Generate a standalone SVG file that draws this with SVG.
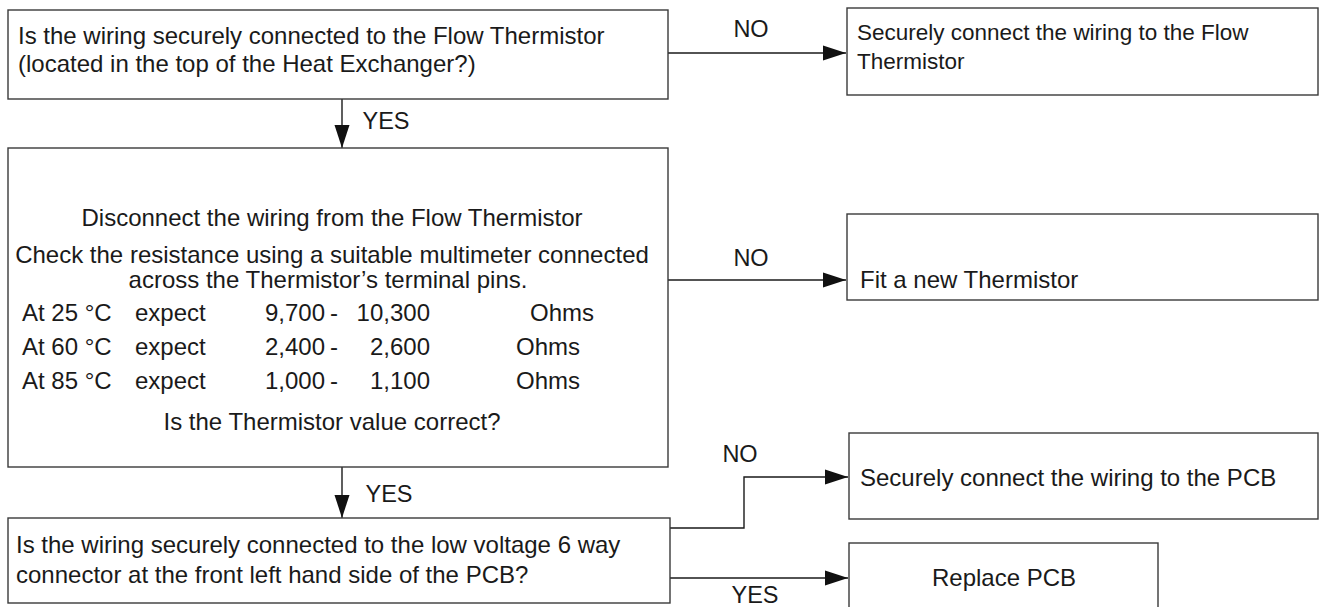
<svg xmlns="http://www.w3.org/2000/svg" width="1327" height="607" viewBox="0 0 1327 607">
<style>
  .box { fill: #ffffff; stroke: #3a3a3a; stroke-width: 1.4; }
  .t { font-family: "Liberation Sans", Arial, sans-serif; font-size: 24px; fill: #1a1a1a; }
  .s { font-size: 22.5px; }
  .c { text-anchor: middle; }
  .lbl { font-family: "Liberation Sans", Arial, sans-serif; font-size: 23.5px; fill: #1a1a1a; text-anchor: middle; }
  .conn { fill: none; stroke: #1a1a1a; stroke-width: 1.4; }
</style>
<defs>
  <marker id="arr" markerUnits="userSpaceOnUse" markerWidth="25" markerHeight="16" refX="23" refY="8" orient="auto">
    <path d="M0,0.5 L23,8 L0,15.5 Z" fill="#111111"/>
  </marker>
</defs>
<rect width="1327" height="607" fill="#ffffff"/>

<g id="connectors">
  <line class="conn" x1="668" y1="53" x2="846" y2="53" marker-end="url(#arr)"/>
  <line class="conn" x1="342" y1="99" x2="342" y2="148" marker-end="url(#arr)"/>
  <line class="conn" x1="668" y1="280" x2="846" y2="280" marker-end="url(#arr)"/>
  <line class="conn" x1="342" y1="467" x2="342" y2="518" marker-end="url(#arr)"/>
  <polyline class="conn" points="670,528 744,528 744,477 848,477" marker-end="url(#arr)"/>
  <line class="conn" x1="670" y1="578" x2="848" y2="578" marker-end="url(#arr)"/>
  <text class="lbl" x="751" y="37">NO</text>
  <text class="lbl" x="386" y="129">YES</text>
  <text class="lbl" x="751" y="266">NO</text>
  <text class="lbl" x="389" y="502">YES</text>
  <text class="lbl" x="740" y="462">NO</text>
  <text class="lbl" x="755" y="603">YES</text>
</g>

<g id="n1">
  <rect class="box" x="8" y="10" width="660" height="89"/>
  <text class="t" x="18" y="44">Is the wiring securely connected to the Flow Thermistor</text>
  <text class="t" x="18" y="72">(located in the top of the Heat Exchanger?)</text>
</g>

<g id="n2">
  <rect class="box" x="847" y="8" width="471" height="87"/>
  <text class="t s" x="857" y="40">Securely connect the wiring to the Flow</text>
  <text class="t s" x="857" y="69">Thermistor</text>
</g>

<g id="n3">
  <rect class="box" x="8" y="148" width="660" height="319"/>
  <text class="t c" x="332" y="226">Disconnect the wiring from the Flow Thermistor</text>
  <text class="t c" x="332" y="263">Check the resistance using a suitable multimeter connected</text>
  <text class="t c" x="328" y="288">across the Thermistor’s terminal pins.</text>
  <text class="t" x="22" y="321">At 25 °C</text>
  <text class="t" x="135" y="321">expect</text>
  <text class="t" x="265" y="321">9,700</text>
  <text class="t" x="330" y="321">-</text>
  <text class="t" x="430" y="321" text-anchor="end">10,300</text>
  <text class="t" x="530" y="321">Ohms</text>
  <text class="t" x="22" y="355">At 60 °C</text>
  <text class="t" x="135" y="355">expect</text>
  <text class="t" x="265" y="355">2,400</text>
  <text class="t" x="330" y="355">-</text>
  <text class="t" x="430" y="355" text-anchor="end">2,600</text>
  <text class="t" x="516" y="355">Ohms</text>
  <text class="t" x="22" y="389">At 85 °C</text>
  <text class="t" x="135" y="389">expect</text>
  <text class="t" x="265" y="389">1,000</text>
  <text class="t" x="330" y="389">-</text>
  <text class="t" x="430" y="389" text-anchor="end">1,100</text>
  <text class="t" x="516" y="389">Ohms</text>
  <text class="t c" x="332" y="430">Is the Thermistor value correct?</text>
</g>

<g id="n4">
  <rect class="box" x="847" y="214" width="471" height="86"/>
  <text class="t" x="860" y="288">Fit a new Thermistor</text>
</g>

<g id="n5">
  <rect class="box" x="8" y="518" width="662" height="85"/>
  <text class="t" x="16" y="553">Is the wiring securely connected to the low voltage 6 way</text>
  <text class="t" x="16" y="583">connector at the front left hand side of the PCB?</text>
</g>

<g id="n6">
  <rect class="box" x="849" y="433" width="469" height="86"/>
  <text class="t" x="860" y="486">Securely connect the wiring to the PCB</text>
</g>

<g id="n7">
  <rect class="box" x="849" y="543" width="309" height="80"/>
  <text class="t c" x="1004" y="586">Replace PCB</text>
</g>
</svg>
